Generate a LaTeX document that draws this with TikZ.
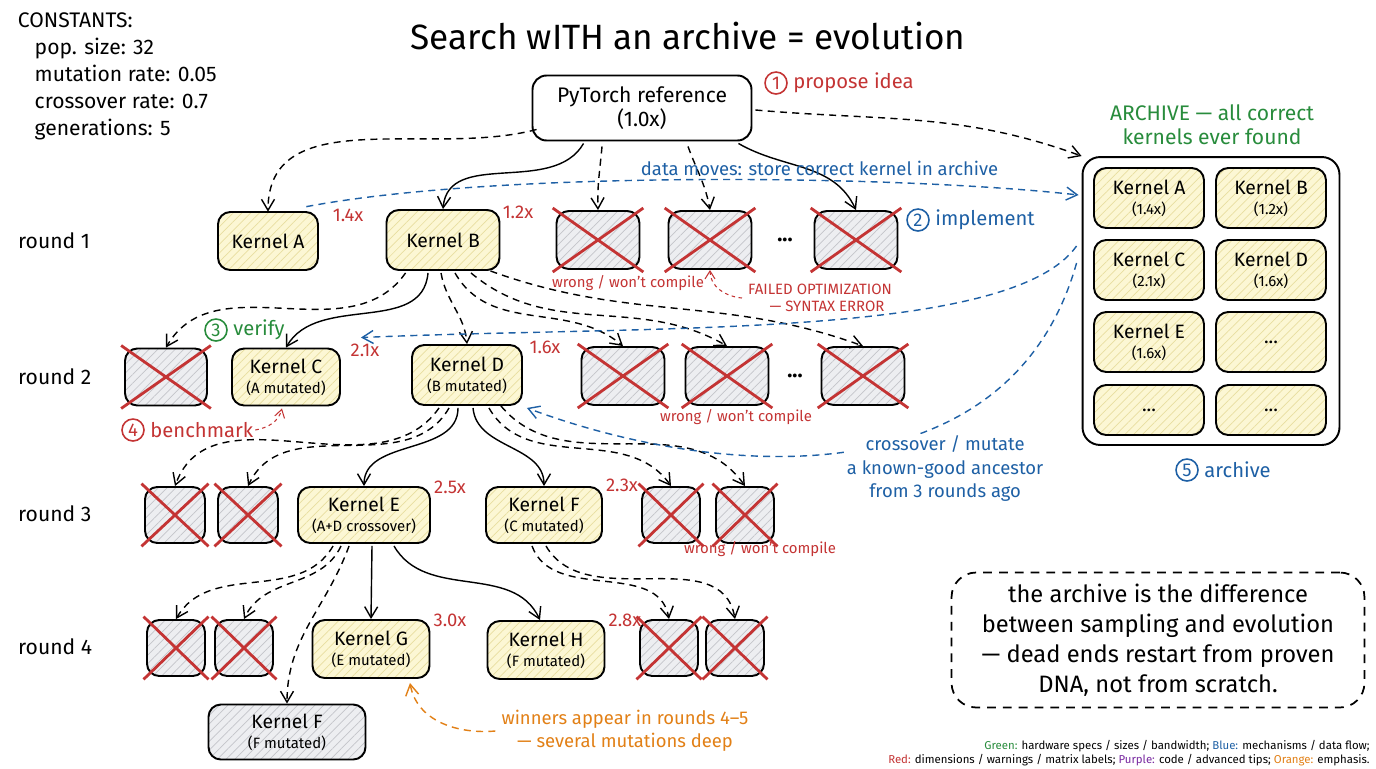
\documentclass[tikz,border=0pt]{standalone}
\usepackage{fontspec}
\setmainfont{Fira Sans}
\usetikzlibrary{arrows.meta,positioning,calc,patterns.meta}
\definecolor{inkred}{RGB}{196,52,52}
\definecolor{inkblue}{RGB}{30,96,165}
\definecolor{inkgreen}{RGB}{40,140,60}
\definecolor{inkorange}{RGB}{226,128,22}
\definecolor{inkpurple}{RGB}{120,40,160}
\definecolor{kernfill}{RGB}{252,247,212}
\definecolor{kernhatch}{RGB}{232,222,160}
\definecolor{failfill}{RGB}{237,238,241}
\definecolor{failhatch}{RGB}{196,197,202}
\newcommand{\kernfont}{\fontsize{11}{12.5}\selectfont}
\newcommand{\subfont}{\fontsize{8.5}{10}\selectfont}
\tikzset{
  boxbase/.style={
    rectangle,
    rounded corners=7pt,
    draw=black,
    line width=1.1pt,
    align=center,
    inner xsep=5pt,
    pattern={Lines[angle=45,distance=3.5pt,line width=0.4pt]}
  },
  kernel/.style={
    boxbase,
    preaction={fill=kernfill},
    pattern color=kernhatch,
    font=\kernfont,
    minimum height=1.16cm
  },
  deadkernel/.style={
    boxbase,
    preaction={fill=failfill},
    pattern color=failhatch,
    font=\kernfont,
    minimum height=1.1cm
  },
  deadbox/.style={
    boxbase,
    preaction={fill=failfill},
    pattern color=failhatch,
    minimum width=1.66cm,
    minimum height=1.16cm
  },
  deadsmall/.style={
    deadbox,
    minimum width=1.16cm,
    minimum height=1.12cm
  },
  archcell/.style={
    kernel,
    minimum width=2.2cm,
    minimum height=1.2cm
  },
  refbox/.style={
    rectangle,
    rounded corners=8pt,
    draw=black,
    line width=1.1pt,
    fill=white,
    align=center,
    minimum width=4.38cm,
    minimum height=1.3cm,
    font=\fontsize{12}{14}\selectfont
  },
  stepnum/.style={
    circle,
    draw,
    line width=0.9pt,
    inner sep=0pt,
    minimum size=0.44cm,
    font=\fontsize{10.5}{11}\selectfont
  },
  steptxt/.style={font=\fontsize{11.5}{13}\selectfont, inner sep=1pt},
  roundtxt/.style={font=\fontsize{12}{14}\selectfont},
  speed/.style={text=inkred, font=\fontsize{10.5}{12}\selectfont},
  warntxt/.style={text=inkred, font=\fontsize{8.5}{9.6}\selectfont, align=center},
  bluetxt/.style={text=inkblue, font=\fontsize{10.5}{13.3}\selectfont, align=center},
  dots/.style={font=\fontsize{12}{14}\selectfont\bfseries},
  xmark/.style={draw=inkred, line width=1.6pt, shorten <=-2pt, shorten >=-2pt},
  solidarr/.style={-{Straight Barb[length=2.2mm,width=2.6mm]}, line width=0.8pt},
  dasharr/.style={solidarr, dash pattern=on 4pt off 3pt},
  bluearr/.style={dasharr, draw=inkblue},
  redarr/.style={-{Straight Barb[length=1.6mm,width=2mm]}, line width=0.6pt, dash pattern=on 2pt off 2pt, draw=inkred},
  orangearr/.style={dasharr, draw=inkorange}
}

\begin{document}
\begin{tikzpicture}[x=0.02cm, y=-0.02cm]
\useasboundingbox[fill=white] (0,0) rectangle (1376,768);

% title and constants
\node[font=\fontsize{20}{24}\selectfont] (title) at (688,36) {Search wITH an archive = evolution};
\node[anchor=north west, align=left, inner sep=2pt, font=\fontsize{12}{15.3}\selectfont] (consts) at (14,9)
  {CONSTANTS:\\\hspace*{9.6pt}pop. size: 32\\\hspace*{9.6pt}mutation rate: 0.05\\\hspace*{9.6pt}crossover rate: 0.7\\\hspace*{9.6pt}generations: 5};

% root
\node[refbox] (ref) at (642,108) {PyTorch reference\\(1.0x)};
\node[stepnum, draw=inkred, text=inkred] (s1) at (776,83) {1};
\node[steptxt, text=inkred, right=2pt of s1] (s1t) {propose idea};

% round labels
\node[roundtxt, anchor=west] (rd1) at (12,241) {round 1};
\node[roundtxt, anchor=west] (rd2) at (12,377) {round 2};
\node[roundtxt, anchor=west] (rd3) at (12,514) {round 3};
\node[roundtxt, anchor=west] (rd4) at (12,647) {round 4};

% round 1
\node[kernel, minimum width=2cm] (kA) at (268,241) {Kernel A};
\node[kernel, minimum width=2.26cm, minimum height=1.2cm] (kB) at (443,240) {Kernel B};
\node[deadbox] (r1f1) at (598,240) {};
\node[deadbox] (r1f2) at (710,240) {};
\node[dots] (r1dots) at (785,240) {...};
\node[deadbox] (r1f3) at (856,240) {};
\node[speed] (spA) at (348,215) {1.4x};
\node[speed] (spB) at (518,212) {1.2x};
\node[warntxt] (w1) at (628,283) {wrong / won't compile};
\node[warntxt] (fail) at (820,298) {FAILED OPTIMIZATION\\\hspace*{8pt}— SYNTAX ERROR};
\node[stepnum, draw=inkblue, text=inkblue] (s2) at (918,220) {2};
\node[steptxt, text=inkblue, right=2pt of s2] (s2t) {implement};

% round 2
\node[deadbox, minimum width=1.64cm, minimum height=1.14cm] (r2f0) at (166,377) {};
\node[kernel, minimum width=2.16cm, minimum height=1.14cm] (kC) at (286,377) {Kernel C\\[-1pt]\subfont (A mutated)};
\node[kernel, minimum width=2.2cm, minimum height=1.2cm] (kD) at (467,375) {Kernel D\\[-1pt]\subfont (B mutated)};
\node[deadbox] (r2f1) at (623,376) {};
\node[deadbox] (r2f2) at (727,376) {};
\node[dots] (r2dots) at (795,376) {...};
\node[deadbox] (r2f3) at (863,376) {};
\node[speed] (spC) at (365,350) {2.1x};
\node[speed] (spD) at (545,347) {1.6x};
\node[warntxt] (w2) at (736,417) {wrong / won't compile};
\node[stepnum, draw=inkgreen, text=inkgreen] (s3) at (216,330) {3};
\node[steptxt, text=inkgreen, right=2pt of s3] (s3t) {verify};
\node[stepnum, draw=inkred, text=inkred] (s4) at (133,430) {4};
\node[steptxt, text=inkred, right=2pt of s4] (s4t) {benchmark};

% round 3
\node[deadsmall, minimum width=1.2cm] (r3f1) at (175,515) {};
\node[deadsmall, minimum width=1.2cm] (r3f2) at (248,515) {};
\node[kernel, minimum width=2.64cm, minimum height=1.12cm] (kE) at (364,515) {Kernel E\\[-1pt]\subfont (A+D crossover)};
\node[kernel, minimum width=2.32cm, minimum height=1.12cm] (kF) at (544,515) {Kernel F\\[-1pt]\subfont (C mutated)};
\node[deadsmall] (r3f3) at (671,515) {};
\node[deadsmall] (r3f4) at (745,515) {};
\node[speed] (spE) at (450,487) {2.5x};
\node[speed] (spF) at (622,485) {2.3x};
\node[warntxt] (w3) at (760,549) {wrong / won't compile};

% round 4
\node[deadsmall] (r4f1) at (176,648) {};
\node[deadsmall] (r4f2) at (244,648) {};
\node[kernel, minimum width=2.34cm] (kG) at (371,649) {Kernel G\\[-1pt]\subfont (E mutated)};
\node[kernel, minimum width=2.34cm] (kH) at (546,650) {Kernel H\\[-1pt]\subfont (F mutated)};
\node[deadsmall] (r4f3) at (669,648) {};
\node[deadsmall] (r4f4) at (735,648) {};
\node[speed] (spG) at (450,620) {3.0x};
\node[speed] (spH) at (625,620) {2.8x};
\node[deadkernel, minimum width=3.14cm] (kFx) at (287,732) {Kernel F\\[-1pt]\subfont (F mutated)};
\node[text=inkorange, font=\fontsize{10.5}{13}\selectfont, align=center] (win) at (625,731)
  {winners appear in rounds 4–5\\— several mutations deep};

% crosses on the failed candidates
\foreach \n in {r1f1,r1f2,r1f3,r2f0,r2f1,r2f2,r2f3,r3f1,r3f2,r3f3,r3f4,r4f1,r4f2,r4f3,r4f4} {
  \draw[xmark] (\n.north west) -- (\n.south east);
  \draw[xmark] (\n.north east) -- (\n.south west);
}

% archive
\node[text=inkgreen, align=center, font=\fontsize{12}{13.6}\selectfont] (archtitle) at (1212,125) {ARCHIVE — all correct\\kernels ever found};
\node[draw, line width=1.1pt, rounded corners=10pt, fill=white, minimum width=5.14cm, minimum height=5.76cm] (arch) at (1211,301) {};
\node[archcell] (a1) at (1149,198) {Kernel A\\[-1pt]\subfont (1.4x)};
\node[archcell] (a2) at (1271,198) {Kernel B\\[-1pt]\subfont (1.2x)};
\node[archcell] (a3) at (1149,270) {Kernel C\\[-1pt]\subfont (2.1x)};
\node[archcell] (a4) at (1271,270) {Kernel D\\[-1pt]\subfont (1.6x)};
\node[archcell] (a5) at (1149,342) {Kernel E\\[-1pt]\subfont (1.6x)};
\node[archcell] (a6) at (1271,342) {...};
\node[archcell, minimum height=1cm] (a7) at (1149,410) {...};
\node[archcell, minimum height=1cm] (a8) at (1271,410) {...};
\node[stepnum, draw=inkblue, text=inkblue] (s5) at (1187,470) {5};
\node[steptxt, text=inkblue, right=2pt of s5] (s5t) {archive};

% note and legend
\node[draw, line width=1pt, dash pattern=on 5pt off 4pt, rounded corners=14pt, minimum width=8.26cm, minimum height=2.7cm, align=center, font=\fontsize{13.5}{17}\selectfont] (note) at (1158,640)
  {the archive is the difference\\between sampling and evolution\\— dead ends restart from proven\\DNA, not from scratch.};
\node[anchor=south east, align=right, inner sep=0pt, font=\fontsize{6.5}{8}\selectfont] (legend) at (1370,766)
  {\textcolor{inkgreen}{Green:} hardware specs / sizes / bandwidth; \textcolor{inkblue}{Blue:} mechanisms / data flow;\\
   \textcolor{inkred}{Red:} dimensions / warnings / matrix labels; \textcolor{inkpurple}{Purple:} code / advanced tips; \textcolor{inkorange}{Orange:} emphasis.};

% root to round 1
\draw[dasharr] ($(ref.south west)+(5,-12)$) to[out=195, in=90] (kA.north);
\draw[solidarr] ($(ref.south west)+(52,2)$) to[out=240, in=85] (kB.north);
\draw[dasharr] ($(ref.south)+(-40,5)$) to[out=265, in=92] (r1f1.north);
\draw[dasharr] ($(ref.south)+(46,5)$) to[out=290, in=100] (r1f2.north);
\draw[solidarr] ($(ref.south east)+(-14,2)$) to[out=330, in=115] (r1f3.north);
\draw[dasharr] ($(ref.east)+(3,2)$) to[out=355, in=160] (arch.north west);
\draw[bluearr] ($(kA.north east)+(-12,-5)$) .. controls (500,170) and (900,175) .. node[pos=0.64, above=-1pt, bluetxt] {data moves: store correct kernel in archive} ($(arch.west)+(-3,-106)$);
\draw[redarr] (fail.west) to[out=175, in=270] (r1f2.south);

% round 1 to round 2
\draw[dasharr] ($(kB.south west)+(20,2)$) to[out=235, in=60] (r2f0.north);
\draw[solidarr] ($(kB.south)+(-15,2)$) to[out=265, in=60] (kC.north);
\draw[dasharr] ($(kB.south)+(-2,2)$) to[out=280, in=95] (kD.north);
\draw[dasharr] ($(kB.south)+(12,2)$) to[out=300, in=140] (r2f1.north);
\draw[dasharr] ($(kB.south)+(28,2)$) to[out=320, in=150] (r2f2.north);
\draw[dasharr] ($(kB.south east)+(-10,0)$) to[out=340, in=160] (r2f3.north);
\draw[bluearr] ($(arch.west)+(-5,-55)$) .. controls (1010,340) and (650,325) .. ($(kC.north east)+(20,-10)$);
\draw[redarr] (s4t.east) to[out=10, in=255] ($(kC.south)+(-4,2)$);

% round 2 to round 3
\draw[dasharr] ($(kD.south west)+(28,2)$) to[out=235, in=70] (r3f1.north);
\draw[dasharr] ($(kD.south west)+(38,2)$) to[out=240, in=65] (r3f2.north);
\draw[solidarr] ($(kD.south)+(-9,2)$) to[out=270, in=90] (kE.north);
\draw[solidarr] ($(kD.south)+(6,2)$) to[out=275, in=90] (kF.north);
\draw[dasharr] ($(kD.south east)+(-34,2)$) to[out=300, in=125] (r3f3.north);
\draw[dasharr] ($(kD.south east)+(-22,0)$) to[out=310, in=125] (r3f4.north);
\draw[bluearr] ($(arch.west)+(-5,-38)$) .. controls (1010,500) and (720,480) .. ($(kD.south east)+(4,2)$)
  node[pos=0.4, anchor=north, xshift=20pt, yshift=2pt, fill=white, inner sep=1pt, bluetxt] (crossnote) {crossover / mutate\\a known-good ancestor\\from 3 rounds ago};

% round 3 to round 4
\draw[dasharr] ($(kE.south west)+(36,2)$) to[out=240, in=60] (r4f1.north);
\draw[dasharr] ($(kE.south west)+(44,2)$) to[out=245, in=65] (r4f2.north);
\draw[dasharr] ($(kE.south west)+(52,2)$) to[out=250, in=90] (kFx.north);
\draw[solidarr] ($(kE.south)+(8,2)$) -- (kG.north);
\draw[solidarr] ($(kE.south)+(30,2)$) to[out=300, in=115] ($(kH.north)+(-6,0)$);
\draw[dasharr] ($(kF.south)+(-12,2)$) to[out=290, in=100] (r4f3.north);
\draw[dasharr] ($(kF.south)+(2,2)$) to[out=300, in=100] (r4f4.north);
\draw[orangearr] (win.west) to[out=185, in=280] ($(kG.south)+(39,4)$);
\end{tikzpicture}
\end{document}
